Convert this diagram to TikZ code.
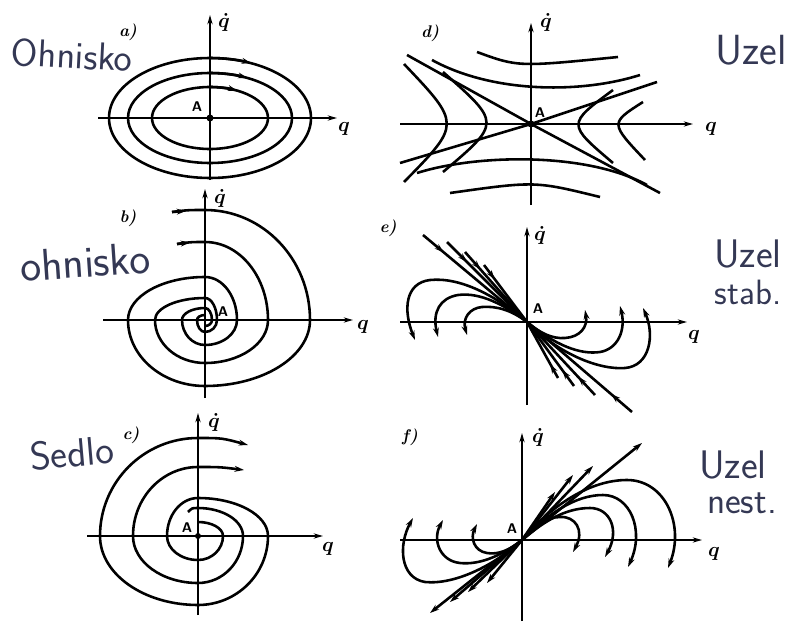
\documentclass[tikz,border=0pt]{standalone}
\usepackage{amsmath,amssymb}
\usepackage{xcolor}
\usepackage{tikz}
\usetikzlibrary{arrows.meta,decorations.markings}
\definecolor{PenInk}{RGB}{ 52,  56,  84}

\begin{document}
\begin{tikzpicture}[x=0.03cm, y=-0.03cm,
    qaxis/.style={line width=1.1pt, -{Stealth[length=8pt,width=4.5pt]}},
    traj/.style={line width=2.2pt},
    outtip/.style={-{Stealth[length=8pt,width=5pt]}},
    inarrow/.style={postaction={decorate}, decoration={markings,
        mark=at position #1 with {\arrow{Stealth[length=8pt,width=5pt]}}}},
    qlbl/.style={font=\LARGE, inner sep=0pt},
    tag/.style={font=\Large\bfseries\itshape, inner sep=0pt},
    ptname/.style={font=\sffamily\bfseries\large, inner sep=0pt},
    hand/.style={text=PenInk, font=\sffamily, inner sep=0pt}]
\useasboundingbox (0,0) rectangle (791,621);

% ---------- a) centre
\coordinate (Oa) at (210,118);
\coordinate (aW) at (98,118);  \coordinate (aE) at (337,118);
\coordinate (aS) at (210,180); \coordinate (aN) at (210,15);
\draw[qaxis] (aW) -- (aE);
\draw[qaxis] (aS) -- (aN);
\draw[traj] (Oa) ellipse[x radius=101, y radius=60];
\draw[traj] (Oa) ellipse[x radius=82, y radius=45];
\draw[traj] (Oa) ellipse[x radius=58, y radius=31];
\draw[traj, outtip] (Oa) ++(0,-60) arc[start angle=270, end angle=294, x radius=101, y radius=60];
\draw[traj, outtip] (Oa) ++(0,-45) arc[start angle=270, end angle=297, x radius=82, y radius=45];
\draw[traj, outtip] (Oa) ++(0,-31) arc[start angle=270, end angle=298, x radius=58, y radius=31];
\fill (Oa) circle[radius=3.5];
\node[tag] (taga) at (128,32) {a)};
\node[qlbl] (qda) at (224,22) {$\boldsymbol{\dot q}$};
\node[qlbl] (qa) at (344,129) {$\boldsymbol{q}$};
\node[ptname] (Aa) at (197,107) {A};

% ---------- d) saddle
\coordinate (Od) at (531,124);
\coordinate (dW) at (400,124); \coordinate (dE) at (693,124);
\coordinate (dS) at (531,205); \coordinate (dN) at (531,23);
\draw[qaxis] (dW) -- (dE);
\draw[qaxis] (dS) -- (dN);
\draw[traj] (407,55) -- (Od) -- (660,193);
\draw[traj] (400,163) -- (Od) -- (657,82);
\draw[traj] (477,52) .. controls (518,67) .. (618,57);
\draw[traj] (432,60) .. controls (492,93) and (580,94) .. (640,75);
\draw[traj] (417,173) .. controls (477,154) and (587,152) .. (647,185);
\draw[traj] (450,193) .. controls (535,181) .. (600,197);
\draw[traj] (404,64) .. controls (461,124) .. (404,182);
\draw[traj] (443,72) .. controls (501,123) .. (443,172);
\draw[traj] (613,90) .. controls (567,124) .. (613,163);
\draw[traj] (643,102) .. controls (610,123) .. (645,160);
\fill (Od) circle[radius=3.5];
\node[tag] (tagd) at (430,33) {d)};
\node[qlbl] (qdd) at (546,22) {$\boldsymbol{\dot q}$};
\node[qlbl] (qd) at (711,129) {$\boldsymbol{q}$};
\node[ptname] (Ad) at (540,113) {A};

% ---------- b) stable focus
\coordinate (Ob) at (205,320);
\coordinate (bW) at (103,320); \coordinate (bE) at (353,320);
\coordinate (bS) at (205,398); \coordinate (bN) at (205,189);
\draw[qaxis] (bW) -- (bE);
\draw[qaxis] (bS) -- (bN);
\draw[traj] (172,212) .. controls (188,210) .. (205,210)
  arc[start angle=270, end angle=360, x radius=105, y radius=110]
  arc[start angle=0,   end angle=90,  x radius=105, y radius=66]
  arc[start angle=90,  end angle=180, x radius=77,  y radius=66]
  arc[start angle=180, end angle=270, x radius=77,  y radius=43]
  arc[start angle=270, end angle=360, x radius=32,  y radius=43]
  arc[start angle=0,   end angle=90,  x radius=32,  y radius=25]
  arc[start angle=90,  end angle=180, x radius=23,  y radius=25]
  arc[start angle=180, end angle=270, x radius=23,  y radius=12]
  arc[start angle=270, end angle=360, x radius=7,   y radius=12]
  arc[start angle=0,   end angle=90,  x radius=7,   y radius=6];
\draw[traj] (177,244) .. controls (191,242) .. (205,242)
  arc[start angle=270, end angle=360, x radius=63, y radius=78]
  arc[start angle=0,   end angle=90,  x radius=63, y radius=43]
  arc[start angle=90,  end angle=180, x radius=50, y radius=43]
  arc[start angle=180, end angle=270, x radius=50, y radius=22]
  arc[start angle=270, end angle=360, x radius=12, y radius=22]
  arc[start angle=0,   end angle=90,  x radius=12, y radius=12]
  arc[start angle=90,  end angle=180, x radius=8,  y radius=12]
  arc[start angle=180, end angle=270, x radius=8,  y radius=5];
\draw[traj, outtip] (172,212) -- (186,211);
\draw[traj, outtip] (177,244) -- (190,242.5);
\node[tag] (tagb) at (128,218) {b)};
\node[qlbl] (qdb) at (220,198) {$\boldsymbol{\dot q}$};
\node[qlbl] (qb) at (363,327) {$\boldsymbol{q}$};
\node[ptname] (Ab) at (223,312) {A};

% ---------- e) stable node
\coordinate (Oe) at (527,322);
\coordinate (eW) at (400,322); \coordinate (eE) at (687,322);
\coordinate (eS) at (527,405); \coordinate (eN) at (527,227);
\draw[qaxis] (eW) -- (eE);
\draw[qaxis] (eS) -- (eN);
\draw[traj, inarrow=0.2] (423,235) -- (Oe);
\draw[traj, inarrow=0.2] (632,412) -- (Oe);
\foreach \p in {(447,242),(465,252),(484,265),(558,378),(574,386),(595,395)}
  \draw[traj, inarrow=0.25] \p -- (Oe);
\draw[traj, outtip] (Oe) .. controls (495,295) and (460,277) .. (430,280)
  .. controls (405,283) and (403,310) .. (415,340);
\draw[traj, outtip] (Oe) .. controls (505,305) and (480,292) .. (458,295)
  .. controls (440,298) and (432,312) .. (438,337);
\draw[traj, outtip] (Oe) .. controls (510,309) and (495,306) .. (482,307)
  .. controls (470,308) and (462,318) .. (467,335);
\draw[traj, outtip] (Oe) .. controls (540,333) and (552,339) .. (565,338)
  .. controls (580,337) and (588,327) .. (585,310);
\draw[traj, outtip] (Oe) .. controls (555,345) and (580,355) .. (600,352)
  .. controls (618,349) and (626,330) .. (620,306);
\draw[traj, outtip] (Oe) .. controls (560,355) and (600,370) .. (625,368)
  .. controls (650,366) and (655,335) .. (643,308);
\node[tag] (tage) at (388,228) {e)};
\node[qlbl] (qde) at (540,235) {$\boldsymbol{\dot q}$};
\node[qlbl] (qe) at (694,337) {$\boldsymbol{q}$};
\node[ptname] (Ae) at (538,309) {A};

% ---------- c) unstable focus
\coordinate (Oc) at (198,536);
\coordinate (cW) at (87,536);  \coordinate (cE) at (323,536);
\coordinate (cS) at (198,615); \coordinate (cN) at (198,413);
\draw[qaxis] (cW) -- (cE);
\draw[qaxis] (cS) -- (cN);
\draw[traj, outtip] (198,522)
  arc[start angle=270, end angle=360, x radius=25, y radius=14]
  arc[start angle=0,   end angle=90,  x radius=25, y radius=24]
  arc[start angle=90,  end angle=180, x radius=31, y radius=24]
  arc[start angle=180, end angle=270, x radius=31, y radius=38]
  arc[start angle=270, end angle=360, x radius=70, y radius=38]
  arc[start angle=0,   end angle=90,  x radius=70, y radius=69]
  arc[start angle=90,  end angle=180, x radius=98, y radius=69]
  arc[start angle=180, end angle=270, x radius=98, y radius=98]
  .. controls (222,438) .. (248,445);
\draw[traj, outtip] (188,512) .. controls (192,508) .. (198,508)
  arc[start angle=270, end angle=360, x radius=45, y radius=28]
  arc[start angle=0,   end angle=90,  x radius=45, y radius=47]
  arc[start angle=90,  end angle=180, x radius=65, y radius=47]
  arc[start angle=180, end angle=270, x radius=65, y radius=69]
  .. controls (220,467) .. (244,470);
\fill (Oc) circle[radius=3];
\node[tag] (tagc) at (131,435) {c)};
\node[qlbl] (qdc) at (214,422) {$\boldsymbol{\dot q}$};
\node[qlbl] (qc) at (328,549) {$\boldsymbol{q}$};
\node[ptname] (Ac) at (187,528) {A};

% ---------- f) unstable node
\coordinate (Of) at (522,540);
\coordinate (fW) at (400,540); \coordinate (fE) at (702,540);
\coordinate (fS) at (522,621); \coordinate (fN) at (522,433);
\draw[qaxis] (fW) -- (fE);
\draw[qaxis] (fS) -- (fN);
\foreach \p in {(642,443),(430,613),(555,492),(573,475),(593,466),(450,602),(468,592),(487,583)}
  \draw[traj, outtip] (Of) -- \p;
\draw[traj, outtip] (Of) .. controls (535,528) and (545,517) .. (560,517)
  .. controls (575,516) and (585,530) .. (573,552);
\draw[traj, outtip] (Of) .. controls (543,522) and (565,508) .. (590,508)
  .. controls (610,508) and (620,530) .. (605,557);
\draw[traj, outtip] (Of) .. controls (548,514) and (575,495) .. (603,495)
  .. controls (630,495) and (645,530) .. (628,567);
\draw[traj, outtip] (Of) .. controls (552,505) and (590,480) .. (627,480)
  .. controls (665,480) and (685,525) .. (668,568);
\draw[traj, outtip] (Of) .. controls (495,565) and (455,585) .. (425,582)
  .. controls (400,578) and (398,545) .. (413,518);
\draw[traj, outtip] (Of) .. controls (500,557) and (478,565) .. (460,563)
  .. controls (440,561) and (432,540) .. (443,520);
\draw[traj, outtip] (Of) .. controls (510,550) and (498,555) .. (487,553)
  .. controls (474,551) and (470,538) .. (477,524);
\node[tag] (tagf) at (410,437) {f)};
\node[qlbl] (qdf) at (538,437) {$\boldsymbol{\dot q}$};
\node[qlbl] (qf) at (714,554) {$\boldsymbol{q}$};
\node[ptname] (Af) at (512,529) {A};

% ---------- handwritten notes
\node[hand, font=\sffamily\fontsize{33}{33}\selectfont, rotate=-3] (noteA) at (72,55) {Ohnisko};
\node[hand, font=\sffamily\fontsize{36}{36}\selectfont] (noteD) at (751,50) {Uzel};
\node[hand, font=\sffamily\fontsize{38}{38}\selectfont, rotate=4] (noteB) at (85,262) {ohnisko};
\node[hand, font=\sffamily\fontsize{34}{34}\selectfont] (noteE) at (748,254) {Uzel};
\node[hand, font=\sffamily\fontsize{30}{30}\selectfont] (noteE2) at (748,292) {stab.};
\node[hand, font=\sffamily\fontsize{34}{34}\selectfont, rotate=5] (noteC) at (72,453) {Sedlo};
\node[hand, font=\sffamily\fontsize{34}{34}\selectfont] (noteF) at (733,465) {Uzel};
\node[hand, font=\sffamily\fontsize{32}{32}\selectfont] (noteF2) at (742,503) {nest.};
\end{tikzpicture}
\end{document}
